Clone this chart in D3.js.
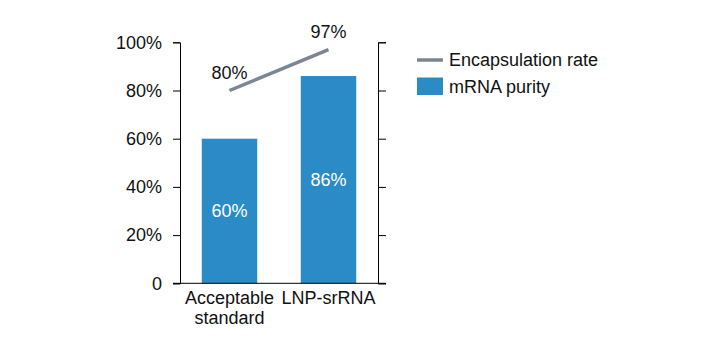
<!DOCTYPE html>
<html><head><meta charset="utf-8">
<script src="https://cdn.jsdelivr.net/npm/d3@7"></script>
<style>body{margin:0;background:#fff}svg{display:block}text{font-family:"Liberation Sans",Arial,sans-serif}</style>
</head><body>
<svg id="c" width="720" height="361"></svg>
<script>
const categories = [["Acceptable","standard"],["LNP-srRNA"]];
const purity = [60, 86];
const encapsulation = [80, 97];
const yTicks = [0, 20, 40, 60, 80, 100];
const legendItems = ["Encapsulation rate", "mRNA purity"];

const svg = d3.select("#c");
const L = 180, R = 378, T = 42.3, B = 283.3;
const FS = 18;
const barColor = "#2a8bc7", lineColor = "#7b8595";
const x = d3.scaleBand().domain(d3.range(categories.length)).range([L, R]).paddingInner(0.44).paddingOuter(0.22);
const y = d3.scaleLinear().domain([0, 100]).range([B, T]);
const fmt = v => v === 0 ? "0" : v + "%";

// bars
svg.selectAll("rect.bar").data(purity).join("rect")
  .attr("x", (d,i) => x(i)).attr("width", x.bandwidth())
  .attr("y", d => y(d)).attr("height", d => B - y(d)).attr("fill", barColor);
svg.selectAll("text.bl").data(purity).join("text")
  .attr("x", (d,i) => x(i) + x.bandwidth()/2).attr("y", d => y(d/2))
  .attr("dy", "0.35em").attr("text-anchor", "middle").attr("fill", "#fff")
  .attr("font-size", FS).text(d => d + "%");

// axes
const left = d3.axisLeft(y).tickValues(yTicks).tickFormat(fmt).tickSizeOuter(0).tickSize(7).tickPadding(11);
const gl = svg.append("g").attr("transform", `translate(${L},0)`).call(left);
gl.selectAll("text").attr("font-size", FS).attr("fill", "#111").attr("font-family", '"Liberation Sans",Arial,sans-serif');
const right = d3.axisRight(y).tickValues(yTicks).tickFormat("").tickSizeOuter(0).tickSize(8);
const gr = svg.append("g").attr("transform", `translate(${R},0)`).call(right);
[gl, gr].forEach(g => { g.select(".domain").attr("stroke", "#000"); g.selectAll("line").attr("stroke", "#000"); });
svg.append("line").attr("x1", L - 7).attr("x2", R + 8).attr("y1", B).attr("y2", B).attr("stroke", "#000");

// x labels
categories.forEach((lines, i) => {
  const t = svg.append("text").attr("text-anchor", "middle").attr("font-size", FS).attr("fill", "#111");
  lines.forEach((s, k) => t.append("tspan").attr("x", x(i) + x.bandwidth()/2).attr("y", 304 + k*20).text(s));
});

// line
const line = d3.line().x((d,i) => x(i) + x.bandwidth()/2).y(d => y(d));
svg.append("path").datum(encapsulation).attr("d", line).attr("fill", "none")
  .attr("stroke", lineColor).attr("stroke-width", 3.5);
svg.selectAll("text.ll").data(encapsulation).join("text")
  .attr("x", (d,i) => x(i) + x.bandwidth()/2).attr("y", d => y(d) - 12)
  .attr("text-anchor", "middle").attr("font-size", FS).attr("fill", "#111").text(d => d + "%");

// legend
const lg = svg.append("g");
lg.append("line").attr("x1", 417).attr("x2", 443).attr("y1", 60).attr("y2", 60).attr("stroke", lineColor).attr("stroke-width", 3.5);
lg.append("text").attr("x", 449).attr("y", 66).attr("font-size", FS).attr("fill", "#111").text(legendItems[0]);
lg.append("rect").attr("x", 417).attr("y", 77.5).attr("width", 26).attr("height", 17.5).attr("fill", barColor);
lg.append("text").attr("x", 449).attr("y", 92.5).attr("font-size", FS).attr("fill", "#111").text(legendItems[1]);
</script>
</body></html>
